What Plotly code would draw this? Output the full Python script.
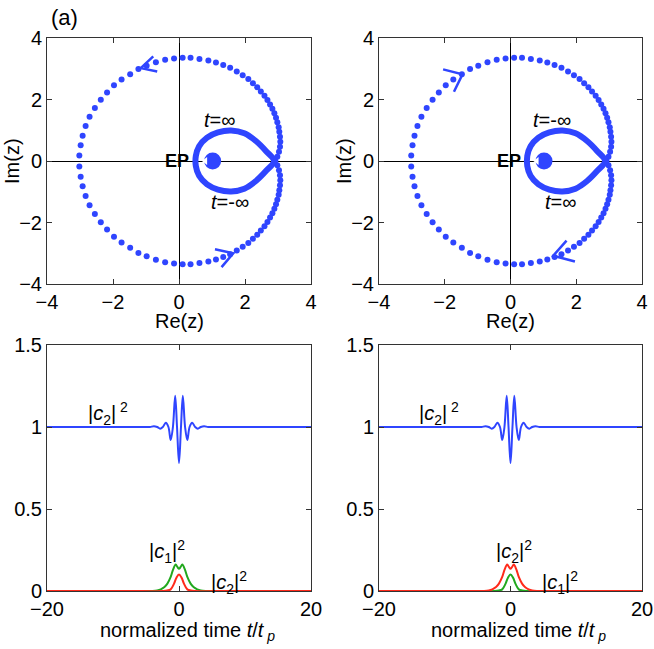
import plotly.graph_objects as go

# ---- Daten ----
# aeussere Punktbahn z(t), obere Haelfte (links -> oben -> rechts)
ring_top_x = [-3.02, -2.98, -2.92, -2.83, -2.71, -2.55, -2.37, -2.18, -1.97, -1.74,
              -1.48, -1.23, -0.98, -0.70, -0.42, -0.15, 0.11, 0.35, 0.62, 0.89,
              1.12, 1.34, 1.55, 1.75, 1.93, 2.10, 2.24, 2.37, 2.48, 2.59,
              2.68, 2.76, 2.83, 2.89, 2.94, 2.98, 3.02, 3.04, 3.06, 3.07,
              3.06, 3.03, 2.98, 2.92]
ring_top_y = [0.18, 0.51, 0.82, 1.14, 1.44, 1.72, 1.99, 2.23, 2.46, 2.65,
              2.82, 2.99, 3.10, 3.21, 3.29, 3.33, 3.36, 3.36, 3.32, 3.27,
              3.20, 3.12, 3.03, 2.91, 2.79, 2.67, 2.53, 2.40, 2.26, 2.12,
              1.98, 1.84, 1.70, 1.55, 1.41, 1.26, 1.10, 0.95, 0.79, 0.63,
              0.46, 0.30, 0.14, 0.00]
# untere Haelfte (rechts -> unten -> links)
ring_bot_x = [2.98, 3.03, 3.06, 3.07, 3.06, 3.04, 3.02, 2.98, 2.94, 2.89,
              2.83, 2.76, 2.68, 2.59, 2.48, 2.37, 2.24, 2.10, 1.93, 1.75,
              1.55, 1.34, 1.12, 0.89, 0.62, 0.35, 0.11, -0.15, -0.42, -0.70,
              -0.98, -1.23, -1.48, -1.74, -1.97, -2.18, -2.37, -2.55, -2.71, -2.83,
              -2.92, -2.98, -3.02]
ring_bot_y = [-0.14, -0.30, -0.46, -0.63, -0.79, -0.95, -1.10, -1.26, -1.41, -1.55,
              -1.70, -1.84, -1.98, -2.12, -2.26, -2.40, -2.53, -2.67, -2.79, -2.91,
              -3.03, -3.12, -3.20, -3.27, -3.32, -3.36, -3.36, -3.33, -3.29, -3.21,
              -3.10, -2.99, -2.82, -2.65, -2.46, -2.23, -1.99, -1.72, -1.44, -1.14,
              -0.82, -0.51, -0.18]

# innere Schleife um den EP
loop_x = [2.88, 2.64, 2.33, 1.98, 1.58, 1.18, 0.85, 0.61, 0.51, 0.51,
          0.61, 0.85, 1.18, 1.58, 1.98, 2.33, 2.64, 2.88]
loop_y = [0.00, 0.32, 0.65, 0.90, 0.99, 0.93, 0.76, 0.48, 0.16, -0.16,
          -0.48, -0.76, -0.93, -0.99, -0.90, -0.65, -0.32, 0.00]

ep_x = [1.02]
ep_y = [0.0]
notch_x = [0.80]
notch_y = [0.0]

# Pfeilspitzen (links / rechts)
arrA_top_x = [-0.78, -1.16, -0.66]
arrA_top_y = [3.40, 3.02, 2.91]
arrA_bot_x = [1.09, 1.645, 1.29]
arrA_bot_y = [-2.87, -3.00, -3.45]
arrB_top_x = [-2.05, -1.46, -1.72]
arrB_top_y = [2.98, 2.82, 2.25]
arrB_bot_x = [1.705, 1.30, 1.96]
arrB_bot_y = [-2.59, -3.08, -3.27]

# Besetzungen ueber normierter Zeit t/t_p
t_big = [-20, -5.0, -4.4, -3.8, -3.3, -2.86, -2.45, -2.0, -1.6, -1.26, -0.92, -0.58, -0.3,
         0.0, 0.3, 0.58, 0.92, 1.26, 1.6, 2.0, 2.45, 2.86, 3.3, 3.8, 4.4, 5.0, 20]
c_big = [1.0, 1.0, 1.0, 1.005, 1.0, 0.99, 1.0, 1.026, 1.0, 0.92, 1.0, 1.19, 1.0,
         0.78, 1.0, 1.19, 1.0, 0.92, 1.0, 1.026, 1.0, 0.99, 1.0, 1.005, 1.0, 1.0, 1.0]

t_dbl = [-20, -8, -4.0, -3.3, -2.76, -2.2, -1.76, -1.26, -0.9, -0.5, -0.22, 0.0,
         0.22, 0.5, 0.9, 1.26, 1.76, 2.2, 2.76, 3.3, 4.0, 8, 20]
c_dbl = [0, 0, 0.0, 0.003, 0.01, 0.024, 0.045, 0.086, 0.13, 0.161, 0.145, 0.135,
         0.145, 0.161, 0.13, 0.086, 0.045, 0.024, 0.01, 0.003, 0.0, 0, 0]

t_sgl = [-20, -8, -2.4, -1.8, -1.26, -0.75, -0.4, 0.0, 0.4, 0.75, 1.26, 1.8, 2.4, 8, 20]
c_sgl = [0, 0, 0.0, 0.003, 0.01, 0.045, 0.08, 0.10, 0.08, 0.045, 0.01, 0.003, 0.0, 0, 0]

BLUE = '#2f45ff'
GREEN = '#22a81e'
RED = '#ff2a1a'
FONT = 'Liberation Sans, Arial, sans-serif'

fig = go.Figure()


def add_z_panel(xa, ya, arr_top, arr_bot):
    ax, ay = 'x' + xa, 'y' + ya
    fig.add_trace(go.Scatter(x=ring_top_x + ring_bot_x, y=ring_top_y + ring_bot_y,
                             mode='markers', marker=dict(color=BLUE, size=6),
                             xaxis=ax, yaxis=ay, showlegend=False))
    fig.add_trace(go.Scatter(x=loop_x, y=loop_y, mode='lines',
                             line=dict(color=BLUE, width=6, shape='spline'),
                             xaxis=ax, yaxis=ay, showlegend=False))
    fig.add_trace(go.Scatter(x=ep_x, y=ep_y, mode='markers',
                             marker=dict(color=BLUE, size=17),
                             xaxis=ax, yaxis=ay, showlegend=False))
    fig.add_trace(go.Scatter(x=notch_x, y=notch_y, mode='markers',
                             marker=dict(color='white', size=7, symbol='triangle-left'),
                             xaxis=ax, yaxis=ay, showlegend=False))
    for axx, ayy in (arr_top, arr_bot):
        fig.add_trace(go.Scatter(x=axx, y=ayy, mode='lines',
                                 line=dict(color=BLUE, width=2.5),
                                 xaxis=ax, yaxis=ay, showlegend=False))


def add_c_panel(xa, ya, traces):
    for tx, ty, col in traces:
        fig.add_trace(go.Scatter(x=tx, y=ty, mode='lines',
                                 line=dict(color=col, width=2, shape='spline'),
                                 xaxis='x' + xa, yaxis='y' + ya, showlegend=False))


add_z_panel('', '', (arrA_top_x, arrA_top_y), (arrA_bot_x, arrA_bot_y))
add_z_panel('2', '2', (arrB_top_x, arrB_top_y), (arrB_bot_x, arrB_bot_y))
add_c_panel('3', '3', [(t_big, c_big, BLUE), (t_dbl, c_dbl, GREEN), (t_sgl, c_sgl, RED)])
add_c_panel('4', '4', [(t_big, c_big, BLUE), (t_sgl, c_sgl, GREEN), (t_dbl, c_dbl, RED)])

W, H = 654, 649
L_dom = [47 / W, 311 / W]
R_dom = [379 / W, 642 / W]
T_dom = [(H - 284) / H, (H - 38) / H]
B_dom = [(H - 591) / H, (H - 345) / H]

axis_common = dict(showline=True, linecolor='#333333', linewidth=1, mirror='ticks',
                   ticks='inside', ticklen=5, tickcolor='#333333', showgrid=False,
                   automargin=False,
                   tickfont=dict(size=20, color='black', family=FONT))

zaxis = dict(axis_common, range=[-4, 4], tickvals=[-4, -2, 0, 2, 4],
             ticktext=['\u22124', '\u22122', '0', '2', '4'],
             zeroline=True, zerolinecolor='black', zerolinewidth=1)
xc = dict(axis_common, range=[-20, 20], tickvals=[-20, 0, 20],
          ticktext=['\u221220', '0', '20'], zeroline=False)
yc = dict(axis_common, range=[0, 1.5], tickvals=[0, 0.5, 1, 1.5],
          ticktext=['0', '0.5', '1', '1.5'], zeroline=False)

fig.update_layout(
    width=W, height=H, margin=dict(l=0, r=0, t=0, b=0, autoexpand=False),
    paper_bgcolor='white', plot_bgcolor='white',
    font=dict(family=FONT, size=20, color='black'),
    xaxis=dict(zaxis, domain=L_dom, anchor='y'),
    yaxis=dict(zaxis, domain=T_dom, anchor='x'),
    xaxis2=dict(zaxis, domain=R_dom, anchor='y2'),
    yaxis2=dict(zaxis, domain=T_dom, anchor='x2'),
    xaxis3=dict(xc, domain=L_dom, anchor='y3'),
    yaxis3=dict(yc, domain=B_dom, anchor='x3'),
    xaxis4=dict(xc, domain=R_dom, anchor='y4'),
    yaxis4=dict(yc, domain=B_dom, anchor='x4'),
)

ann = []


def paper_text(text, px, py, size=20, angle=0):
    ann.append(dict(text=text, x=px / W, y=(H - py) / H, xref='paper', yref='paper',
                    xanchor='center', yanchor='middle', showarrow=False,
                    textangle=angle, font=dict(size=size)))


# Achsentitel
for cx in (179, 510):
    paper_text('Re(z)', cx, 321)
    paper_text('normalized time <i>t</i>/<i>t</i><sub> <i>p</i></sub>', cx + 8, 631)
for cx in (12, 344):
    paper_text('Im(z)', cx, 161, angle=-90)
paper_text('(a)', 64, 18, size=22)

# Beschriftungen in den z-Ebenen
for xr, yr, top_lbl, bot_lbl in (('x', 'y', '<i>t</i>=\u221e', '<i>t</i>=-\u221e'),
                                 ('x2', 'y2', '<i>t</i>=-\u221e', '<i>t</i>=\u221e')):
    ann.append(dict(text='<b>EP</b>', x=-0.05, y=0, xref=xr, yref=yr, showarrow=False,
                    font=dict(size=18)))
    ann.append(dict(text=top_lbl, x=1.25, y=1.33, xref=xr, yref=yr, showarrow=False,
                    font=dict(size=20)))
    ann.append(dict(text=bot_lbl, x=1.55, y=-1.32, xref=xr, yref=yr, showarrow=False,
                    font=dict(size=20)))

c1 = '|<i>c</i><sub>1</sub>|<sup>2</sup>'
c2 = '|<i>c</i><sub>2</sub>|<sup>2</sup>'
c2top = '|<i>c</i><sub>2</sub>|<sup> 2</sup>'
for xr, yr, mid, side, midx in (('x3', 'y3', c1, c2, -1.8), ('x4', 'y4', c2, c1, 0.6)):
    ann.append(dict(text=c2top, x=-10.8, y=1.08, xref=xr, yref=yr, showarrow=False,
                    font=dict(size=20)))
    ann.append(dict(text=mid, x=midx, y=0.24, xref=xr, yref=yr, showarrow=False,
                    font=dict(size=20)))
    ann.append(dict(text=side, x=7.6, y=0.05, xref=xr, yref=yr, showarrow=False,
                    font=dict(size=20)))

fig.update_layout(annotations=ann)

fig.write_html("out.html", config={'displayModeBar': False},
               post_script="document.body.style.margin='0px';")
